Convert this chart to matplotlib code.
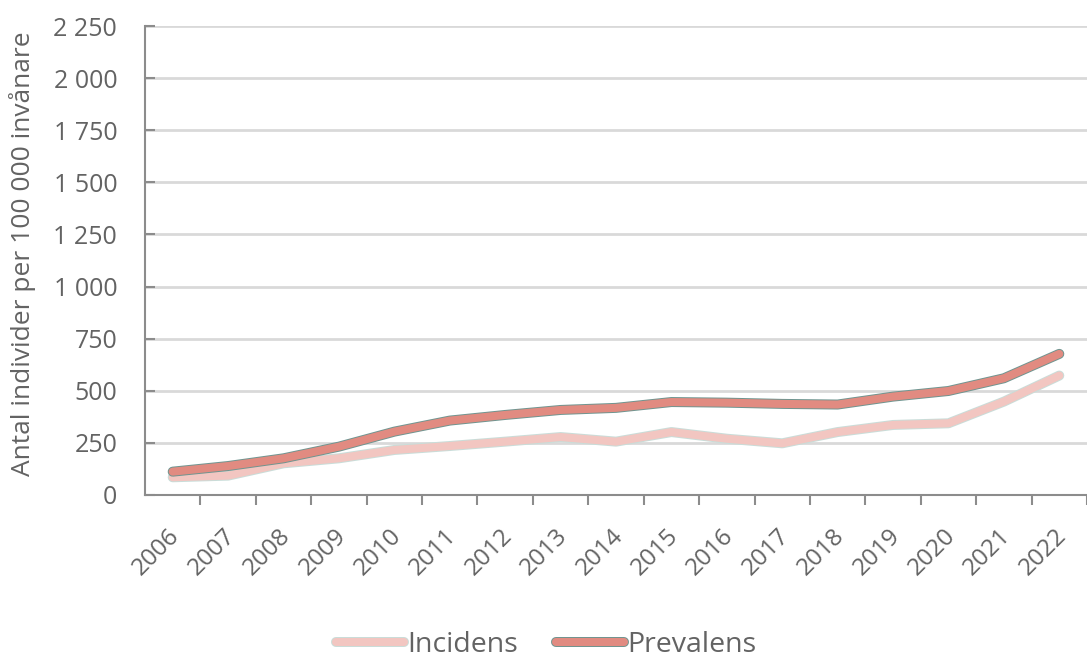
import matplotlib
matplotlib.use("Agg")
import matplotlib.pyplot as plt
import matplotlib.patheffects as pe
import matplotlib.transforms as mtransforms
from matplotlib.lines import Line2D
import numpy as np

years = ["2006", "2007", "2008", "2009", "2010", "2011", "2012", "2013", "2014",
         "2015", "2016", "2017", "2018", "2019", "2020", "2021", "2022"]
incidens = [85, 93, 152, 176, 216, 235, 256, 278, 256, 302, 270, 248, 302, 336, 344, 448, 573]
prevalens = [112, 139, 176, 232, 304, 357, 384, 408, 418, 446, 443, 437, 434, 472, 499, 560, 677]
yticks = [0, 250, 500, 750, 1000, 1250, 1500, 1750, 2000, 2250]
ytick_labels = ["0", "250", "500", "750", "1 000", "1 250", "1 500", "1 750", "2 000", "2 250"]

plt.rcParams['font.family'] = ['Open Sans', 'DejaVu Sans']
text_col = "#636363"

fig = plt.figure(figsize=(10.87, 6.6), dpi=100)
ax = fig.add_axes([145/1087, 1 - 495/660, (1087-145)/1087, (495-26)/660])

x = np.arange(len(years))
inc_col, inc_out = "#f2c6c1", "#c9ddd9"
pre_col, pre_out = "#e18b81", "#6f9590"
lw, olw = 5.8, 7.2

ax.plot(x, incidens, color=inc_col, lw=lw, solid_capstyle='round', solid_joinstyle='round',
        path_effects=[pe.Stroke(linewidth=olw, foreground=inc_out), pe.Normal()], zorder=3)
ax.plot(x, prevalens, color=pre_col, lw=lw, solid_capstyle='round', solid_joinstyle='round',
        path_effects=[pe.Stroke(linewidth=olw, foreground=pre_out), pe.Normal()], zorder=4)

ax.set_xlim(-0.5, len(years) - 0.5)
ax.set_ylim(0, 2250)
ax.set_yticks(yticks)
ax.set_yticklabels(ytick_labels)
ax.set_xticks(x)
ax.set_xticklabels(years, rotation=45, ha='right', va='top', rotation_mode='anchor')
ax.set_xticks(np.arange(len(years)) + 0.5, minor=True)

ax.tick_params(axis='x', which='major', length=0, pad=21, labelsize=17.5, labelcolor=text_col)
ax.tick_params(axis='x', which='minor', length=7, width=1.5, color="#8c8c8c")
ax.tick_params(axis='y', direction='in', length=7, width=1.5, color="#8c8c8c", pad=20,
               labelsize=18, labelcolor=text_col)

offset = mtransforms.ScaledTranslation(-5/100, 0, fig.dpi_scale_trans)
for lab in ax.get_xticklabels():
    lab.set_transform(lab.get_transform() + offset)

ax.grid(axis='y', color="#d9d9d9", lw=2)
ax.set_axisbelow(True)
for s in ['top', 'right']:
    ax.spines[s].set_visible(False)
for s in ['left', 'bottom']:
    ax.spines[s].set_color("#8c8c8c")
    ax.spines[s].set_linewidth(1.5)

ax.set_ylabel("Antal individer per 100 000 invånare", fontsize=19, color=text_col)
ax.yaxis.set_label_coords(-(145 - 36)/942, (495 - 254)/469)

handles = [
    Line2D([], [], color=inc_col, lw=lw, solid_capstyle='round',
           path_effects=[pe.Stroke(linewidth=olw, foreground=inc_out), pe.Normal()]),
    Line2D([], [], color=pre_col, lw=lw, solid_capstyle='round',
           path_effects=[pe.Stroke(linewidth=olw, foreground=pre_out), pe.Normal()]),
]
fig.legend(handles, ["Incidens", "Prevalens"], loc='center', bbox_to_anchor=(546/1087, 1 - 645/660),
           ncol=2, frameon=False, fontsize=20.5, handlelength=2.4, handletextpad=0.1,
           columnspacing=1.35, labelcolor=text_col)

fig.savefig("out.png", dpi=100)
